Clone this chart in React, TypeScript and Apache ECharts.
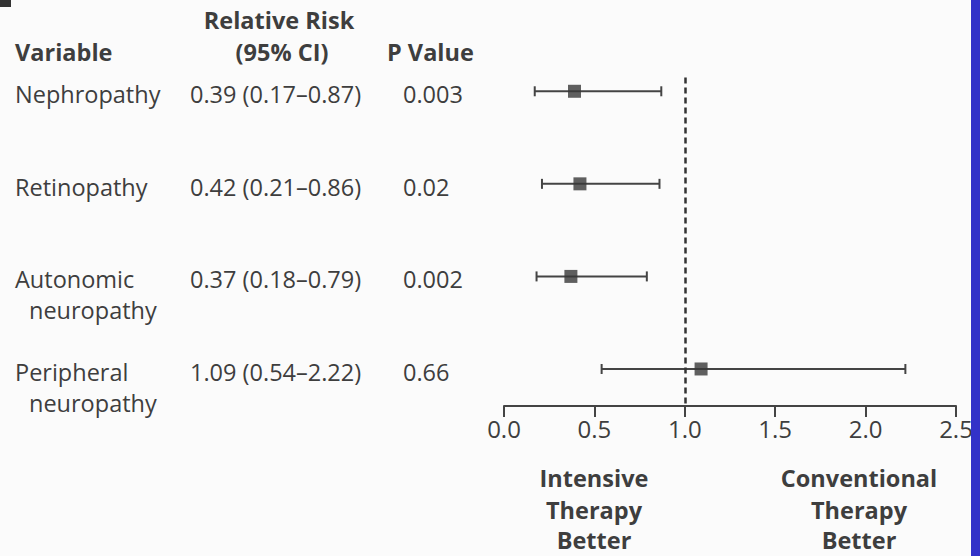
import React, { useEffect, useRef } from "react";
import * as echarts from "echarts";

const variables = ["Nephropathy", "Retinopathy", "Autonomic\nneuropathy", "Peripheral\nneuropathy"];
const rrText = ["0.39 (0.17–0.87)", "0.42 (0.21–0.86)", "0.37 (0.18–0.79)", "1.09 (0.54–2.22)"];
const pValues = ["0.003", "0.02", "0.002", "0.66"];
const rr = [0.39, 0.42, 0.37, 1.09];
const lower = [0.17, 0.21, 0.18, 0.54];
const upper = [0.87, 0.86, 0.79, 2.22];
const nullValue = 1.0;
const xMin = 0;
const xMax = 2.5;
const xInterval = 0.5;

const FONT = "Open Sans";
const TEXT = "#3e3e3e";
const FS = 23.5;

export default function App() {
  const ref = useRef<HTMLDivElement>(null);
  useEffect(() => {
    if (!ref.current) return;
    const chart = echarts.init(ref.current, undefined, { renderer: "svg" });

    const ciData = rr.map((_, i) => [lower[i], upper[i], i]);
    const pointData = rr.map((v, i) => [v, i]);
    const textData = rr.map((_, i) => [0, i]);

    const txt = (text: string, x: number, y: number, align: string, bold: boolean) => ({
      type: "text",
      x,
      y,
      style: {
        text,
        fontFamily: FONT,
        fontWeight: bold ? "bold" : "normal",
        fontSize: FS,
        fill: TEXT,
        textAlign: align,
        textVerticalAlign: "middle",
      },
    });

    const option: any = {
      animation: false,
      backgroundColor: "#fbfbfb",
      grid: { left: 504, right: 24, top: 45, bottom: 150 },
      xAxis: {
        type: "value",
        min: xMin,
        max: xMax,
        interval: xInterval,
        splitLine: { show: false },
        axisLine: { show: true, onZero: false, lineStyle: { color: "#444", width: 2 } },
        axisTick: { show: true, length: 11, lineStyle: { color: "#444", width: 2 } },
        axisLabel: {
          margin: 10,
          fontFamily: FONT,
          fontSize: 24,
          color: TEXT,
          formatter: (v: number) => v.toFixed(1),
        },
      },
      yAxis: { type: "value", inverse: true, min: -0.5, max: 3.4, show: false },
      series: [
        {
          type: "custom",
          clip: false,
          data: ciData,
          encode: { x: [0, 1], y: 2 },
          renderItem: (params: any, api: any) => {
            const a = api.coord([api.value(0), api.value(2)]);
            const b = api.coord([api.value(1), api.value(2)]);
            const st = { stroke: "#444", lineWidth: 2 };
            return {
              type: "group",
              children: [
                { type: "line", shape: { x1: a[0], y1: a[1], x2: b[0], y2: b[1] }, style: st },
                { type: "line", shape: { x1: a[0], y1: a[1] - 5, x2: a[0], y2: a[1] + 5 }, style: st },
                { type: "line", shape: { x1: b[0], y1: b[1] - 5, x2: b[0], y2: b[1] + 5 }, style: st },
              ],
            };
          },
          markLine: {
            silent: true,
            symbol: "none",
            label: { show: false },
            lineStyle: { color: "#333", width: 2.5, type: [6, 4] },
            data: [[{ coord: [nullValue, -0.15] }, { coord: [nullValue, 3.4] }]],
          },
        },
        {
          type: "scatter",
          data: pointData,
          symbol: "rect",
          symbolSize: 13,
          itemStyle: { color: "#383838" },
          z: 5,
        },
        {
          type: "custom",
          clip: false,
          data: textData,
          encode: { x: 0, y: 1 },
          renderItem: (params: any, api: any) => {
            const i = params.dataIndex;
            const y = api.coord([0, api.value(1)])[1] + 3;
            const lines = variables[i].split("\n");
            const children: any[] = lines.map((ln, k) => txt(ln, k === 0 ? 15 : 29, y + k * 31, "left", false));
            children.push(txt(rrText[i], 190, y, "left", false));
            children.push(txt(pValues[i], 403, y, "left", false));
            return { type: "group", children };
          },
        },
      ],
      graphic: [
        { type: "rect", shape: { x: 0, y: 0, width: 11, height: 7 }, style: { fill: "#333" } },
        txt("Relative Risk", 279, 20, "center", true),
        txt("Variable", 15, 52, "left", true),
        txt("(95% CI)", 282, 52, "center", true),
        txt("P Value", 387, 52, "left", true),
        txt("Intensive", 594, 478, "center", true),
        txt("Therapy", 594, 510, "center", true),
        txt("Better", 594, 540, "center", true),
        txt("Conventional", 859, 478, "center", true),
        txt("Therapy", 859, 510, "center", true),
        txt("Better", 859, 540, "center", true),
        { type: "rect", z: 100, shape: { x: 971, y: 0, width: 9, height: 556 }, style: { fill: "#3232c8" } },
      ],
    };
    chart.setOption(option);
    return () => chart.dispose();
  }, []);
  return <div ref={ref} style={{ position: "fixed", left: 0, top: 0, width: 980, height: 556 }} />;
}
